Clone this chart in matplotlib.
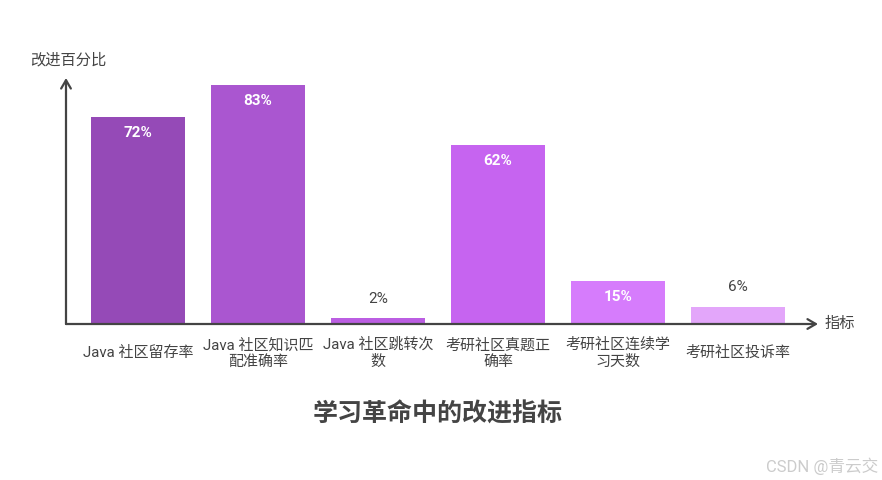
# plot.py
# Improvement metrics bar chart

import matplotlib.pyplot as plt

plt.rcParams["font.family"] = ["Roboto", "Noto Sans CJK SC", "DejaVu Sans"]

categories = [
    "Java 社区留存率",
    "Java 社区知识匹\n配准确率",
    "Java 社区跳转次\n数",
    "考研社区真题正\n确率",
    "考研社区连续学\n习天数",
    "考研社区投诉率",
]
values = [72, 83, 2, 62, 15, 6]
colors = ["#954ab7", "#aa56d0", "#bb5ee2", "#c664f0", "#d67cfc", "#e3a6fa"]
inside = [True, True, False, True, True, False]

text_color = "#444444"


def main():
    fig = plt.figure(figsize=(8.82, 4.8), dpi=100)
    ax = fig.add_axes([66 / 882, 156 / 480, 752 / 882, 246 / 480])
    ax.set_xlim(-0.6, 5.667)
    ax.set_ylim(0, 85.4)
    for s in ax.spines.values():
        s.set_visible(False)
    ax.set_xticks([])
    ax.set_yticks([])

    x = range(len(values))
    ax.bar(x, values, width=0.783, color=colors)

    for i, v in enumerate(values):
        if inside[i]:
            ax.annotate(f"{v}%", (i, v), xytext=(0, -11.5), textcoords="offset points",
                        ha="center", va="center", color="white", fontsize=11,
                        fontweight="bold")
        else:
            ax.annotate(f"{v}%", (i, v), xytext=(0, 14), textcoords="offset points",
                        ha="center", va="center", color=text_color, fontsize=11)

    for i, c in enumerate(categories):
        ax.annotate(c, (i, 0), xytext=(0, -21), textcoords="offset points",
                    ha="center", va="center", color=text_color, fontsize=10.8,
                    linespacing=1.2, annotation_clip=False)

    # axes arrows
    arrow = dict(arrowstyle="->,head_length=0.6,head_width=0.35",
                 color=text_color, lw=1.6, shrinkA=0, shrinkB=0)
    ax.annotate("", xy=(0, 1), xytext=(0, 0), xycoords="axes fraction",
                arrowprops=arrow, annotation_clip=False)
    ax.annotate("", xy=(1, 0), xytext=(0, 0), xycoords="axes fraction",
                arrowprops=arrow, annotation_clip=False)

    fig.text(30 / 882, 1 - 60 / 480, "改进百分比", ha="left", va="center",
             color=text_color, fontsize=11)
    fig.text(825 / 882, 1 - 324 / 480, "指标", ha="left", va="center",
             color=text_color, fontsize=11)
    fig.text(437.5 / 882, 1 - 414 / 480, "学习革命中的改进指标",
             ha="center", va="center", color=text_color, fontsize=18,
             fontweight="bold")
    fig.text(878 / 882, 1 - 466 / 480, "CSDN @青云交", ha="right", va="center",
             color="#cccccc", fontsize=12)

    fig.savefig("out.png", dpi=100)


if __name__ == "__main__":
    main()
